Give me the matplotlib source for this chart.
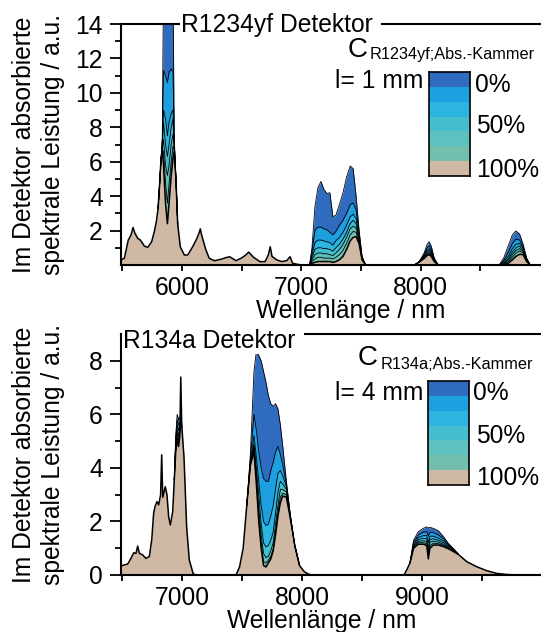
import numpy as np
import matplotlib
matplotlib.use('Agg')
from matplotlib import pyplot as plt
from matplotlib.colors import ListedColormap

plt.rcParams['font.family'] = ['Liberation Sans', 'DejaVu Sans']
plt.rcParams['font.size'] = 17.7

# fill colours, 0% (top) ... 100% (bottom)
level_colors = ['#2f6bbf', '#1e9fe0', '#2bb5e0', '#45bfcf', '#5dc2bf', '#72bfae', '#cfb9a5']

# ---------------- R1234yf detector, 100% curve ----------------
top_wl = [5489, 5517, 5550, 5573, 5590, 5606, 5629, 5651, 5685, 5713,
          5746, 5768, 5785, 5800, 5812, 5824, 5835, 5845, 5862, 5878,
          5892, 5910, 5925, 5935, 5950, 5964, 5986, 6020, 6048, 6090,
          6126, 6145, 6154, 6163, 6173, 6201, 6229, 6271, 6327, 6375,
          6400, 6453, 6495, 6530, 6560, 6599, 6655, 6697, 6725, 6740,
          6755, 6794, 6836, 6878, 6906, 6928, 6962, 7000, 7070, 7090,
          7115, 7140, 7165, 7190, 7215, 7240, 7265, 7290, 7320, 7350,
          7380, 7410, 7435, 7460, 7485, 7510, 7540, 7950, 7990, 8030,
          8055, 8072, 8090, 8115, 8150, 8660, 8700, 8740, 8770, 8800,
          8830, 8860, 8890, 8920, 9010]
top_base = [0.29, 0.39, 1.45, 1.74, 2.18, 1.84, 1.55, 1.45, 1.1, 1.02,
            1.35, 1.93, 2.5, 3.3, 4.6, 6.1, 6.6, 5.9, 3.6, 2.4,
            3.6, 5.2, 6.2, 6.6, 4.9, 2.4, 1.06, 0.58, 0.58, 1.06,
            1.55, 1.9, 2.1, 1.8, 1.55, 0.87, 0.39, 0.25, 0.33, 0.44,
            0.48, 0.25, 0.39, 0.55, 0.75, 0.45, 0.19, 0.2, 0.6, 1.06,
            0.5, 0.3, 0.2, 0.25, 0.48, 0.1, 0.05, 0.0, 0.0, 0.1,
            0.15, 0.2, 0.2, 0.2, 0.2, 0.2, 0.15, 0.2, 0.3, 0.5,
            0.9, 1.4, 1.6, 1.65, 1.25, 0.3, 0.0, 0.0, 0.18, 0.38,
            0.55, 0.6, 0.5, 0.2, 0.0, 0.0, 0.03, 0.12, 0.3, 0.5,
            0.62, 0.6, 0.2, 0.0, 0.0]

# absorption bands, rows = 0%, 17%, 33%, 50%, 67%, 83%
top_b1_wl = [5800, 5812, 5824, 5835, 5845, 5862, 5878, 5892, 5910, 5925, 5935, 5950, 5964]
top_b1 = [[3.3, 4.6, 6.1, 7.4, 16.0, 17.0, 17.0, 17.0, 16.5, 16.0, 7.4, 4.9, 2.4],
          [3.3, 4.6, 6.1, 7.2, 11.3, 11.0, 10.6, 11.2, 11.4, 11.2, 7.2, 4.9, 2.4],
          [3.3, 4.6, 6.1, 7.0, 9.0, 8.5, 7.5, 8.3, 8.8, 9.0, 7.0, 4.9, 2.4],
          [3.3, 4.6, 6.1, 6.9, 8.3, 7.0, 6.3, 7.0, 8.0, 8.5, 6.9, 4.9, 2.4],
          [3.3, 4.6, 6.1, 6.8, 7.3, 5.8, 5.2, 5.8, 7.0, 7.6, 6.8, 4.9, 2.4],
          [3.3, 4.6, 6.1, 6.7, 6.6, 4.8, 3.6, 4.7, 6.0, 6.9, 6.7, 4.9, 2.4]]

top_b2_wl = [7070, 7090, 7115, 7140, 7165, 7190, 7215, 7240, 7265, 7290,
             7320, 7350, 7380, 7410, 7435, 7460, 7485, 7510, 7540]
top_b2 = [[0, 1.0, 3.4, 4.5, 4.85, 4.4, 4.15, 4.2, 2.8, 2.9, 3.5, 4.2, 5.1, 5.75, 5.6, 4.0, 2.0, 0.5, 0],
          [0, 0.8, 2.0, 2.2, 2.2, 2.1, 2.05, 1.9, 1.75, 1.95, 2.3, 2.6, 3.0, 3.5, 3.6, 3.2, 1.8, 0.45, 0],
          [0, 0.6, 1.3, 1.45, 1.45, 1.4, 1.35, 1.3, 1.15, 1.4, 1.6, 1.9, 2.3, 2.8, 2.95, 2.7, 1.6, 0.4, 0],
          [0, 0.45, 0.9, 1.0, 1.0, 0.95, 0.95, 0.9, 0.8, 1.0, 1.2, 1.5, 1.9, 2.4, 2.6, 2.4, 1.5, 0.38, 0],
          [0, 0.3, 0.6, 0.7, 0.7, 0.65, 0.65, 0.6, 0.55, 0.7, 0.9, 1.2, 1.6, 2.1, 2.25, 2.15, 1.4, 0.35, 0],
          [0, 0.2, 0.35, 0.45, 0.45, 0.4, 0.4, 0.4, 0.35, 0.45, 0.6, 0.85, 1.25, 1.75, 1.95, 1.9, 1.3, 0.32, 0]]

top_b3_wl = [7950, 7990, 8030, 8055, 8072, 8090, 8115, 8150]
top_b3 = [[0, 0.2, 0.7, 1.2, 1.35, 1.1, 0.4, 0],
          [0, 0.2, 0.6, 1.0, 1.1, 0.9, 0.35, 0],
          [0, 0.2, 0.55, 0.85, 0.95, 0.8, 0.3, 0],
          [0, 0.19, 0.5, 0.75, 0.85, 0.7, 0.27, 0],
          [0, 0.19, 0.45, 0.68, 0.75, 0.62, 0.24, 0],
          [0, 0.18, 0.42, 0.6, 0.68, 0.55, 0.22, 0]]

top_b4_wl = [8660, 8700, 8740, 8770, 8800, 8830, 8860, 8890, 8920]
top_b4 = [[0, 0.45, 1.2, 1.75, 1.98, 1.8, 1.2, 0.4, 0],
          [0, 0.3, 0.8, 1.25, 1.5, 1.45, 1.05, 0.35, 0],
          [0, 0.2, 0.55, 0.95, 1.2, 1.25, 0.95, 0.32, 0],
          [0, 0.12, 0.4, 0.75, 1.0, 1.1, 0.85, 0.3, 0],
          [0, 0.08, 0.3, 0.6, 0.85, 0.95, 0.78, 0.28, 0],
          [0, 0.05, 0.2, 0.45, 0.7, 0.82, 0.7, 0.25, 0]]

# ---------------- R134a detector, 100% curve ----------------
bot_wl = [6492, 6548, 6575, 6598, 6617, 6631, 6645, 6673, 6700, 6728,
          6748, 6764, 6775, 6792, 6806, 6822, 6831, 6840, 6861, 6875,
          6889, 6903, 6923, 6936, 6948, 6960, 6972, 6982, 6990, 6998,
          7017, 7039, 7061, 7094, 7120, 7450, 7480, 7510, 7540, 7570,
          7600, 7620, 7640, 7660, 7680, 7700, 7720, 7740, 7760, 7780,
          7800, 7820, 7840, 7870, 7900, 7940, 7980, 8020, 8060, 8100,
          8850, 8873, 8900, 8930, 8970, 9010, 9040, 9053, 9066, 9095,
          9135, 9180, 9220, 9260, 9300, 9373, 9456, 9540, 9623, 9706,
          9800, 9992]
bot_base = [0.34, 0.41, 0.62, 0.83, 0.81, 1.08, 0.81, 0.75, 0.62, 0.69,
            1.31, 2.3, 2.55, 2.74, 2.62, 3.0, 4.49, 2.9, 3.3, 3.0,
            2.18, 1.87, 2.37, 3.55, 4.6, 5.0, 4.8, 5.2, 7.39, 5.6,
            4.4, 1.8, 0.56, 0.04, 0.0, 0.0, 0.3, 1.0, 2.6, 4.1,
            4.6, 3.4, 2.0, 1.0, 0.35, 0.3, 0.45, 0.6, 0.9, 1.5,
            2.2, 2.7, 2.95, 2.9, 2.2, 1.1, 0.35, 0.12, 0.02, 0.0,
            0.0, 0.19, 0.45, 1.0, 1.15, 1.15, 1.1, 0.6, 1.0, 1.12,
            1.12, 1.06, 0.98, 0.88, 0.78, 0.5, 0.31, 0.16, 0.06, 0.02,
            0.0, 0.0]

bot_b1_wl = [6936, 6948, 6960, 6972, 6982, 6998]
bot_b1 = [[3.55, 5.2, 6.0, 5.8, 5.9, 5.6],
          [3.55, 5.1, 5.8, 5.6, 5.7, 5.6],
          [3.55, 5.0, 5.6, 5.4, 5.6, 5.6],
          [3.55, 4.9, 5.45, 5.2, 5.5, 5.6],
          [3.55, 4.8, 5.3, 5.05, 5.4, 5.6],
          [3.55, 4.7, 5.15, 4.9, 5.3, 5.6]]

bot_b2_wl = [7540, 7570, 7600, 7620, 7640, 7660, 7680, 7700, 7720, 7740,
             7760, 7780, 7800, 7820, 7840, 7870, 7900, 7940, 7980]
bot_b2 = [[2.6, 4.5, 7.6, 8.35, 8.2, 8.0, 7.6, 7.2, 6.7, 6.4, 6.3, 6.4, 6.2, 5.6, 4.8, 3.5, 2.35, 1.1, 0.35],
          [2.6, 4.3, 6.0, 5.4, 4.6, 4.0, 3.6, 3.5, 3.5, 3.9, 4.2, 4.6, 4.8, 4.5, 4.1, 3.4, 2.3, 1.1, 0.35],
          [2.6, 4.2, 5.2, 4.4, 3.5, 2.6, 2.0, 1.85, 1.9, 2.2, 2.6, 3.2, 3.8, 3.9, 3.7, 3.3, 2.28, 1.1, 0.35],
          [2.6, 4.15, 4.9, 4.0, 3.0, 1.9, 1.2, 1.05, 1.1, 1.3, 1.6, 2.3, 3.1, 3.5, 3.4, 3.2, 2.26, 1.1, 0.35],
          [2.6, 4.12, 4.8, 3.8, 2.5, 1.5, 0.8, 0.65, 0.7, 0.9, 1.2, 1.9, 2.6, 3.2, 3.2, 3.1, 2.24, 1.1, 0.35],
          [2.6, 4.1, 4.7, 3.6, 2.2, 1.2, 0.5, 0.45, 0.55, 0.7, 0.95, 1.6, 2.35, 2.9, 3.05, 3.0, 2.22, 1.1, 0.35]]

bot_b3_wl = [8900, 8930, 8970, 9010, 9040, 9053, 9066, 9095, 9135, 9180, 9220, 9260, 9300]
bot_b3 = [[0.45, 1.3, 1.62, 1.74, 1.8, 1.75, 1.78, 1.74, 1.66, 1.43, 1.18, 1.0, 0.8],
          [0.45, 1.22, 1.5, 1.6, 1.62, 1.45, 1.6, 1.58, 1.5, 1.35, 1.14, 0.97, 0.8],
          [0.45, 1.15, 1.4, 1.47, 1.47, 1.2, 1.45, 1.45, 1.38, 1.27, 1.1, 0.95, 0.79],
          [0.45, 1.1, 1.32, 1.37, 1.35, 1.0, 1.33, 1.35, 1.3, 1.2, 1.06, 0.93, 0.79],
          [0.45, 1.06, 1.25, 1.28, 1.25, 0.85, 1.22, 1.26, 1.23, 1.14, 1.03, 0.91, 0.78],
          [0.45, 1.03, 1.2, 1.21, 1.17, 0.72, 1.1, 1.18, 1.17, 1.1, 1.0, 0.9, 0.78]]

W, H = 541, 632


def draw_panel(ax, wl, base, bands):
    for bwl, levels in bands:
        for lev, col in zip(levels, level_colors[:-1]):
            ax.fill_between(bwl, 0, lev, color=col, lw=0)
            ax.plot(bwl, lev, color='black', lw=0.6)
    ax.fill_between(wl, 0, base, color=level_colors[-1], lw=0)
    ax.plot(wl, base, color='black', lw=1.1)


def style_axes(ax, ymax, xlim, xmaj, xmin, ymaj, ymin):
    ax.set_xlim(*xlim)
    ax.set_ylim(0, ymax)
    ax.set_xticks(xmaj)
    ax.set_xticks(xmin, minor=True)
    ax.set_yticks(ymaj)
    ax.set_yticks(ymin, minor=True)
    ax.spines['right'].set_visible(False)
    for s in ['left', 'bottom', 'top']:
        ax.spines[s].set_linewidth(1.5)
    ax.tick_params(axis='y', which='major', length=8, width=1.3, pad=5)
    ax.tick_params(axis='y', which='minor', length=4.5, width=1.3)
    ax.tick_params(axis='x', which='both', length=4, width=1.3, pad=4)
    ax.set_ylabel('Im Detektor absorbierte\nspektrale Leistung / a.u.', linespacing=1.25)
    ax.yaxis.set_label_coords(-0.133, 0.5)


def legend_box(x0, y0, x1, y1):
    lax = fig.add_axes([x0 / W, 1 - y1 / H, (x1 - x0) / W, (y1 - y0) / H])
    lax.imshow(np.arange(len(level_colors)).reshape(-1, 1), cmap=ListedColormap(level_colors),
               aspect='auto', interpolation='nearest')
    lax.set_xticks([])
    lax.set_yticks([])
    for s in lax.spines.values():
        s.set_linewidth(1.2)


def ftext(x, y, s, **kw):
    fig.text(x / W, 1 - y / H, s, va='baseline', **kw)


fig = plt.figure(figsize=(W / 100, H / 100), dpi=100)
ax1 = fig.add_axes([121 / W, 1 - 265 / H, 420 / W, 241 / H])
ax2 = fig.add_axes([121 / W, 1 - 575 / H, 420 / W, 241 / H])

draw_panel(ax1, top_wl, top_base,
           [(top_b1_wl, top_b1), (top_b2_wl, top_b2), (top_b3_wl, top_b3), (top_b4_wl, top_b4)])
style_axes(ax1, 14, (5489, 9010), [6000, 7000, 8000], [5500, 6500, 7500, 8500],
           [2, 4, 6, 8, 10, 12, 14], [1, 3, 5, 7, 9, 11, 13])
ax1.set_xlabel('Wellenlänge / nm')
ax1.xaxis.set_label_coords(0.548, -0.141)
ax1.text(0.143, 0.967, 'R1234yf Detektor ', transform=ax1.transAxes, va='baseline',
         bbox=dict(facecolor='white', edgecolor='none', pad=1), zorder=5, clip_on=False)

draw_panel(ax2, bot_wl, bot_base, [(bot_b1_wl, bot_b1), (bot_b2_wl, bot_b2), (bot_b3_wl, bot_b3)])
style_axes(ax2, 9, (6492, 9992), [7000, 8000, 9000], [6500, 7500, 8500, 9500],
           [0, 2, 4, 6, 8], [1, 3, 5, 7])
ax2.set_xlabel('Wellenlänge / nm')
ax2.xaxis.set_label_coords(0.479, -0.141)
ax2.text(0.005, 0.942, 'R134a Detektor ', transform=ax2.transAxes, va='baseline',
         bbox=dict(facecolor='white', edgecolor='none', pad=1), zorder=5, clip_on=False)

# legends
legend_box(429, 72, 470, 176)
ftext(348, 57, 'C', fontsize=20)
ftext(370, 59, 'R1234yf;Abs.-Kammer', fontsize=11.7)
ftext(335, 88, 'l= 1 mm')
ftext(475, 92, '0%')
ftext(476, 133, '50%')
ftext(476, 177, '100%')

legend_box(428, 381, 469, 485)
ftext(358, 365, 'C', fontsize=20)
ftext(381, 369, 'R134a;Abs.-Kammer', fontsize=11.7)
ftext(335, 400, 'l= 4 mm')
ftext(473, 400, '0%')
ftext(476, 443, '50%')
ftext(476, 485, '100%')

fig.savefig('out.png', dpi=100)
